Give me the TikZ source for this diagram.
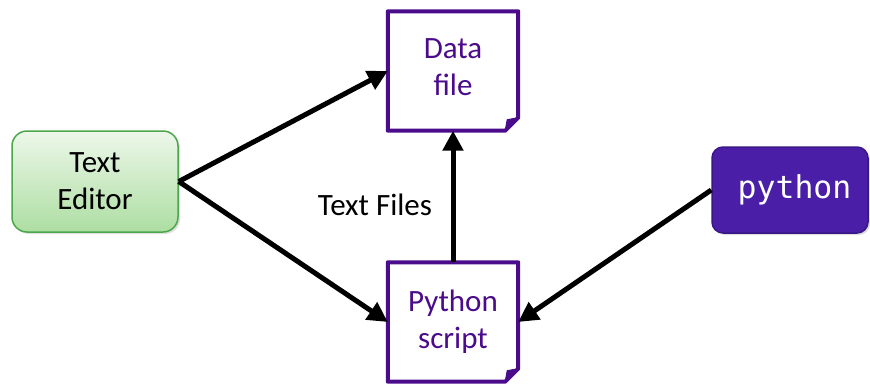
\documentclass[tikz,border=0pt]{standalone}
\usepackage{fontspec}
\setmainfont{Carlito}
\newfontfamily\codefont{DejaVu Sans Mono}
\usetikzlibrary{arrows.meta,shadows}
\definecolor{docpurple}{HTML}{4B0C8C}
\definecolor{pyfill}{HTML}{4A1EA6}
\definecolor{pyedge}{HTML}{3A1786}
\definecolor{edtop}{HTML}{EDF7EA}
\definecolor{edbot}{HTML}{ADDEA2}
\definecolor{ededge}{HTML}{4CA64C}
\tikzset{
  labelfont/.style={font=\fontsize{31}{37}\selectfont},
  editor/.style={labelfont, align=center, rounded corners=15pt,
    minimum width=166pt, minimum height=101pt, draw=ededge, line width=1.5pt,
    top color=edtop, bottom color=edbot, text=black,
    drop shadow={shadow xshift=2pt, shadow yshift=-2pt, opacity=0.25}},
  doc/.style={labelfont, align=center, text=docpurple,
    minimum width=130pt, minimum height=119pt, inner sep=0pt},
  docline/.style={draw=docpurple, line width=4pt, line join=round, fill=white},
  docfold/.style={fill=docpurple, draw=docpurple, line width=1pt, line join=round},
  pybox/.style={font=\codefont\fontsize{31.5}{37}\selectfont, text=white,
    fill=pyfill, draw=pyedge, line width=1.5pt, rounded corners=11pt,
    minimum width=156pt, minimum height=86pt,
    drop shadow={shadow xshift=2pt, shadow yshift=-2pt, opacity=0.25}},
  plainlabel/.style={labelfont, text=black, inner sep=0pt},
  arr/.style={line width=5pt, -{Triangle[length=20pt,width=20pt]}}
}
\begin{document}
\begin{tikzpicture}[x=1pt,y=-1pt]
\useasboundingbox (0,0) rectangle (870,383);

% document nodes (outlines drawn below)
\node[doc] (data) at (453,71) {};
\node[doc] (script) at (453,322) {};

% page outlines with a folded bottom-right corner
\foreach \n in {data,script}{
  \draw[docline] (\n.north west) -- (\n.north east)
    -- ([yshift=13pt]\n.south east) -- ([xshift=-13pt]\n.south east)
    -- (\n.south west) -- cycle;
  \draw[docfold] ([yshift=13pt]\n.south east)
    -- ([xshift=-13pt]\n.south east)
    -- ([xshift=-11pt,yshift=11pt]\n.south east) -- cycle;
}
\node[doc] at ([yshift=4pt]data.center) {Data\\file};
\node[doc] at (script.center) {Python\\script};

\node[editor] (editor) at (95,181.5) {Text\\Editor};
\node[pybox] (py) at (790,190) {\hspace*{9pt}python};
\node[plainlabel] (tf) at (375,205) {Text Files};

% connectors
\draw[arr] (editor.east) -- (data.west);
\draw[arr] (editor.east) -- (script.west);
\draw[arr] (script.north) -- (data.south);
\draw[arr] (py.west) -- (script.east);
\end{tikzpicture}
\end{document}
